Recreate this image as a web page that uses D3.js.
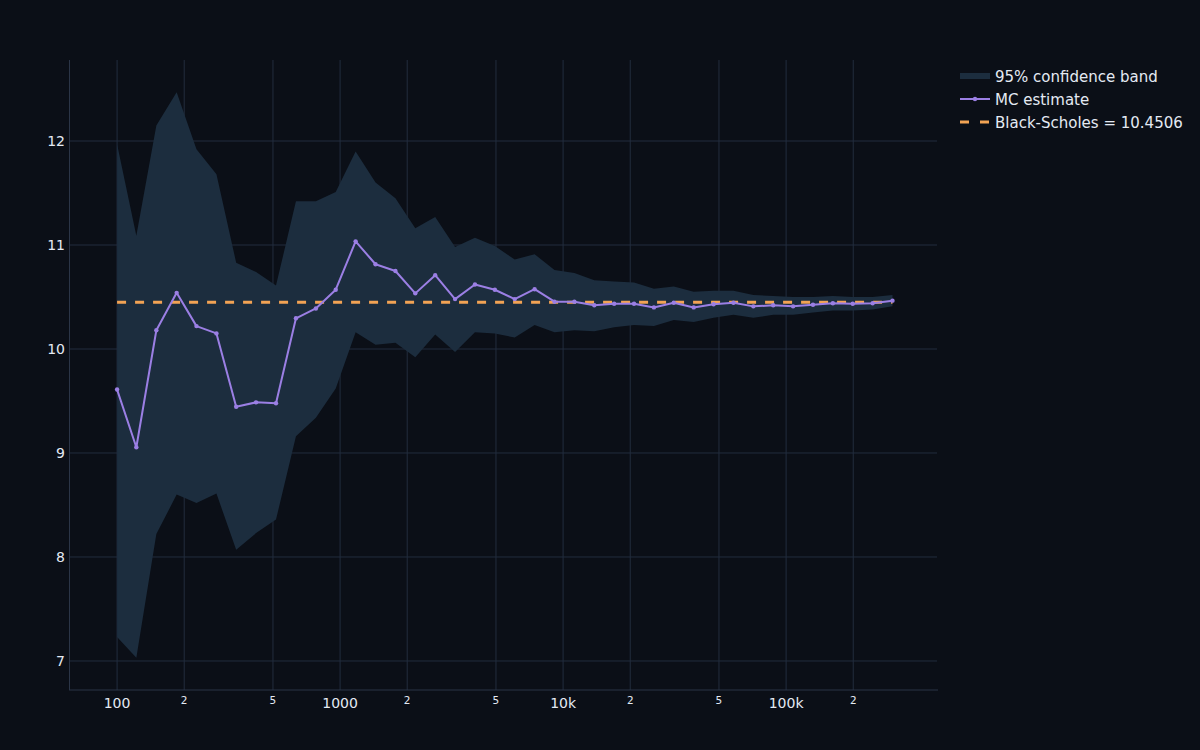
<!DOCTYPE html>
<html>
<head>
<meta charset="utf-8">
<script src="https://cdn.jsdelivr.net/npm/d3@7"></script>
<style>
  html, body { margin: 0; padding: 0; background: #0b0f17; }
  svg { display: block; }
  text { font-family: "DejaVu Sans", "Open Sans", sans-serif; }
</style>
</head>
<body>
<svg id="chart" width="1200" height="750"></svg>
<script>
// ---------- data ----------
const sampleSizes = [100,122,150,185,227,279,342,420,516,634,779,956,1174,1442,1771,2174,2670,3278,4025,4943,6069,7453,9151,11237,13798,16942,20803,25544,31365,38513,47290,58067,71299,87548,107498,131996,162076,199011,244362,300000];
const mcEstimate = [9.61,9.055,10.18,10.54,10.22,10.15,9.445,9.487,9.478,10.295,10.39,10.57,11.035,10.815,10.75,10.535,10.71,10.48,10.62,10.57,10.48,10.575,10.455,10.455,10.42,10.435,10.435,10.40,10.445,10.40,10.43,10.445,10.41,10.42,10.41,10.425,10.44,10.435,10.44,10.465];
const bandLower = [7.23,7.03,8.22,8.60,8.52,8.61,8.07,8.23,8.36,9.16,9.34,9.62,10.16,10.04,10.06,9.92,10.14,9.97,10.16,10.15,10.11,10.23,10.16,10.18,10.17,10.21,10.23,10.22,10.28,10.26,10.30,10.33,10.30,10.33,10.33,10.35,10.37,10.37,10.38,10.41];
const bandUpper = [11.97,11.09,12.15,12.47,11.92,11.68,10.83,10.74,10.61,11.42,11.42,11.51,11.90,11.60,11.45,11.16,11.27,10.98,11.07,10.99,10.86,10.91,10.76,10.73,10.66,10.65,10.64,10.58,10.60,10.55,10.56,10.56,10.52,10.51,10.50,10.50,10.51,10.50,10.50,10.52];
const blackScholes = 10.4506;
const xTickValues = [100,200,500,1000,2000,5000,10000,20000,50000,100000,200000];
const xTickLabels = ["100","2","5","1000","2","5","10k","2","5","100k","2"];
const yTickValues = [7,8,9,10,11,12];
const legendLabels = ["95% confidence band","MC estimate","Black-Scholes = 10.4506"];

// ---------- styles ----------
const C = {
  bg: "#0b0f17", grid: "#222d3e", axis: "#2b3547", band: "#1c2d3e",
  line: "#9b7fe4", bs: "#f2a354", text: "#e4eaf3"
};
const plot = { left: 70, right: 937, top: 60, bottom: 690 };

const svg = d3.select("#chart");
svg.append("rect").attr("width", 1200).attr("height", 750).attr("fill", C.bg);

const x = d3.scaleLog().domain([61.5, 475000]).range([plot.left, plot.right]);
const y = d3.scaleLinear().domain([6.721, 12.779]).range([plot.bottom, plot.top]);

// grid
const g = svg.append("g");
g.selectAll("line.vg").data(xTickValues).join("line")
  .attr("x1", d => x(d)).attr("x2", d => x(d))
  .attr("y1", plot.top).attr("y2", plot.bottom)
  .attr("stroke", C.grid).attr("stroke-width", 1);
g.selectAll("line.hg").data(yTickValues).join("line")
  .attr("x1", plot.left).attr("x2", plot.right)
  .attr("y1", d => y(d)).attr("y2", d => y(d))
  .attr("stroke", C.grid).attr("stroke-width", 1);

// axis lines
svg.append("line").attr("x1", plot.left - 1).attr("x2", plot.right + 1)
  .attr("y1", plot.bottom).attr("y2", plot.bottom).attr("stroke", C.axis).attr("stroke-width", 1);
svg.append("line").attr("x1", plot.left - 0.5).attr("x2", plot.left - 0.5)
  .attr("y1", plot.top).attr("y2", plot.bottom).attr("stroke", C.axis).attr("stroke-width", 1);

const rows = sampleSizes.map((n, i) => ({ n, est: mcEstimate[i], lo: bandLower[i], hi: bandUpper[i] }));

// band
svg.append("path").datum(rows)
  .attr("fill", C.band)
  .attr("d", d3.area().x(d => x(d.n)).y0(d => y(d.lo)).y1(d => y(d.hi)));

// Black-Scholes
svg.append("line")
  .attr("x1", x(sampleSizes[0])).attr("x2", x(sampleSizes[sampleSizes.length - 1]))
  .attr("y1", y(blackScholes)).attr("y2", y(blackScholes))
  .attr("stroke", C.bs).attr("stroke-width", 3).attr("stroke-dasharray", "9,9");

// MC line
svg.append("path").datum(rows)
  .attr("fill", "none").attr("stroke", C.line).attr("stroke-width", 2)
  .attr("stroke-linejoin", "round")
  .attr("d", d3.line().x(d => x(d.n)).y(d => y(d.est)));
svg.selectAll("circle.pt").data(rows).join("circle")
  .attr("cx", d => x(d.n)).attr("cy", d => y(d.est)).attr("r", 2.2)
  .attr("fill", C.line);

// y tick labels
svg.selectAll("text.yt").data(yTickValues).join("text")
  .attr("x", 65).attr("y", d => y(d) + 5)
  .attr("text-anchor", "end").attr("font-size", 14).attr("fill", C.text)
  .text(d => d);

// x tick labels
svg.selectAll("text.xt").data(xTickValues).join("text")
  .attr("x", d => x(d))
  .attr("y", (d, i) => xTickLabels[i].length > 1 ? 708 : 704)
  .attr("text-anchor", "middle")
  .attr("font-size", (d, i) => xTickLabels[i].length > 1 ? 14 : 10.5)
  .attr("fill", C.text)
  .text((d, i) => xTickLabels[i]);

// legend
const lg = svg.append("g").attr("transform", "translate(960,0)");
const ly = [76, 99, 122];
lg.append("rect").attr("x", 0).attr("y", ly[0] - 3).attr("width", 30).attr("height", 6).attr("fill", C.band);
lg.append("line").attr("x1", 0).attr("x2", 30).attr("y1", ly[1]).attr("y2", ly[1])
  .attr("stroke", C.line).attr("stroke-width", 2);
lg.append("circle").attr("cx", 15).attr("cy", ly[1]).attr("r", 2.2).attr("fill", C.line);
lg.append("line").attr("x1", 0).attr("x2", 30).attr("y1", ly[2]).attr("y2", ly[2])
  .attr("stroke", C.bs).attr("stroke-width", 3).attr("stroke-dasharray", "9,11");
lg.selectAll("text").data(legendLabels).join("text")
  .attr("x", 35).attr("y", (d, i) => ly[i] + 5.5)
  .attr("font-size", 15).attr("fill", C.text)
  .text(d => d);
</script>
</body>
</html>
